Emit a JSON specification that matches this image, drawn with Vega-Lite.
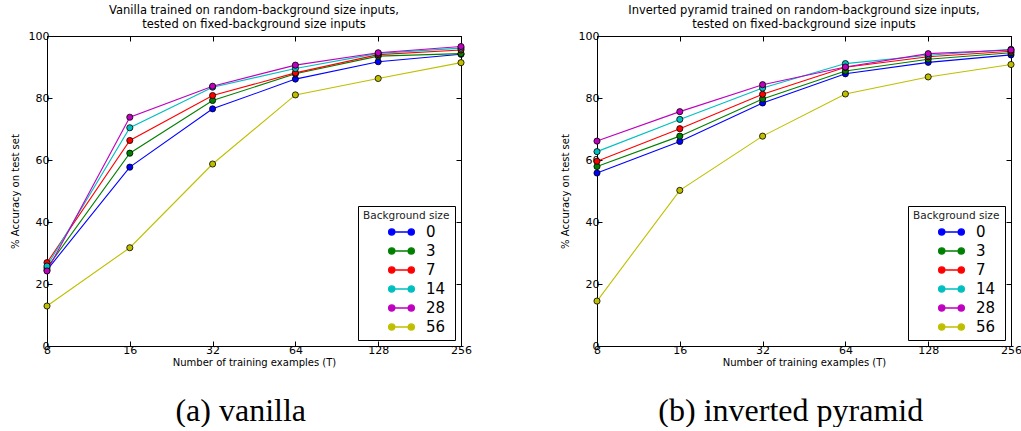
{
  "$schema": "https://vega.github.io/schema/vega-lite/v6.json",
  "background": "white",
  "padding": {"left": 9, "top": 4, "right": 5, "bottom": 0},
  "datasets": {
    "acc": [
      {"panel": "a", "T": 8, "bg": "0", "acc": 24.5},
      {"panel": "a", "T": 16, "bg": "0", "acc": 57.7},
      {"panel": "a", "T": 32, "bg": "0", "acc": 76.5},
      {"panel": "a", "T": 64, "bg": "0", "acc": 86.1},
      {"panel": "a", "T": 128, "bg": "0", "acc": 91.7},
      {"panel": "a", "T": 256, "bg": "0", "acc": 94.1},
      {"panel": "a", "T": 8, "bg": "3", "acc": 25.2},
      {"panel": "a", "T": 16, "bg": "3", "acc": 62.2},
      {"panel": "a", "T": 32, "bg": "3", "acc": 79.2},
      {"panel": "a", "T": 64, "bg": "3", "acc": 87.8},
      {"panel": "a", "T": 128, "bg": "3", "acc": 93.5},
      {"panel": "a", "T": 256, "bg": "3", "acc": 94.3},
      {"panel": "a", "T": 8, "bg": "7", "acc": 26.9},
      {"panel": "a", "T": 16, "bg": "7", "acc": 66.3},
      {"panel": "a", "T": 32, "bg": "7", "acc": 80.8},
      {"panel": "a", "T": 64, "bg": "7", "acc": 88.1},
      {"panel": "a", "T": 128, "bg": "7", "acc": 94.0},
      {"panel": "a", "T": 256, "bg": "7", "acc": 95.5},
      {"panel": "a", "T": 8, "bg": "14", "acc": 25.8},
      {"panel": "a", "T": 16, "bg": "14", "acc": 70.4},
      {"panel": "a", "T": 32, "bg": "14", "acc": 83.5},
      {"panel": "a", "T": 64, "bg": "14", "acc": 89.5},
      {"panel": "a", "T": 128, "bg": "14", "acc": 94.4},
      {"panel": "a", "T": 256, "bg": "14", "acc": 96.1},
      {"panel": "a", "T": 8, "bg": "28", "acc": 24.2},
      {"panel": "a", "T": 16, "bg": "28", "acc": 73.8},
      {"panel": "a", "T": 32, "bg": "28", "acc": 83.8},
      {"panel": "a", "T": 64, "bg": "28", "acc": 90.6},
      {"panel": "a", "T": 128, "bg": "28", "acc": 94.6},
      {"panel": "a", "T": 256, "bg": "28", "acc": 96.6},
      {"panel": "a", "T": 8, "bg": "56", "acc": 12.9},
      {"panel": "a", "T": 16, "bg": "56", "acc": 31.7},
      {"panel": "a", "T": 32, "bg": "56", "acc": 58.7},
      {"panel": "a", "T": 64, "bg": "56", "acc": 81.0},
      {"panel": "a", "T": 128, "bg": "56", "acc": 86.3},
      {"panel": "a", "T": 256, "bg": "56", "acc": 91.4},
      {"panel": "b", "T": 8, "bg": "0", "acc": 55.8},
      {"panel": "b", "T": 16, "bg": "0", "acc": 66.0},
      {"panel": "b", "T": 32, "bg": "0", "acc": 78.4},
      {"panel": "b", "T": 64, "bg": "0", "acc": 87.8},
      {"panel": "b", "T": 128, "bg": "0", "acc": 91.5},
      {"panel": "b", "T": 256, "bg": "0", "acc": 93.9},
      {"panel": "b", "T": 8, "bg": "3", "acc": 57.9},
      {"panel": "b", "T": 16, "bg": "3", "acc": 67.7},
      {"panel": "b", "T": 32, "bg": "3", "acc": 79.7},
      {"panel": "b", "T": 64, "bg": "3", "acc": 88.7},
      {"panel": "b", "T": 128, "bg": "3", "acc": 92.5},
      {"panel": "b", "T": 256, "bg": "3", "acc": 94.6},
      {"panel": "b", "T": 8, "bg": "7", "acc": 59.6},
      {"panel": "b", "T": 16, "bg": "7", "acc": 70.1},
      {"panel": "b", "T": 32, "bg": "7", "acc": 81.2},
      {"panel": "b", "T": 64, "bg": "7", "acc": 89.9},
      {"panel": "b", "T": 128, "bg": "7", "acc": 93.3},
      {"panel": "b", "T": 256, "bg": "7", "acc": 95.1},
      {"panel": "b", "T": 8, "bg": "14", "acc": 62.7},
      {"panel": "b", "T": 16, "bg": "14", "acc": 73.1},
      {"panel": "b", "T": 32, "bg": "14", "acc": 83.2},
      {"panel": "b", "T": 64, "bg": "14", "acc": 91.1},
      {"panel": "b", "T": 128, "bg": "14", "acc": 93.8},
      {"panel": "b", "T": 256, "bg": "14", "acc": 95.7},
      {"panel": "b", "T": 8, "bg": "28", "acc": 66.1},
      {"panel": "b", "T": 16, "bg": "28", "acc": 75.6},
      {"panel": "b", "T": 32, "bg": "28", "acc": 84.3},
      {"panel": "b", "T": 64, "bg": "28", "acc": 90.0},
      {"panel": "b", "T": 128, "bg": "28", "acc": 94.3},
      {"panel": "b", "T": 256, "bg": "28", "acc": 95.5},
      {"panel": "b", "T": 8, "bg": "56", "acc": 14.5},
      {"panel": "b", "T": 16, "bg": "56", "acc": 50.2},
      {"panel": "b", "T": 32, "bg": "56", "acc": 67.7},
      {"panel": "b", "T": 64, "bg": "56", "acc": 81.3},
      {"panel": "b", "T": 128, "bg": "56", "acc": 86.8},
      {"panel": "b", "T": 256, "bg": "56", "acc": 90.8}
    ]
  },
  "config": {
    "font": "DejaVu Sans",
    "view": {"stroke": "black", "strokeWidth": 1},
    "axis": {
      "domainColor": "black",
      "tickColor": "black",
      "labelColor": "black",
      "titleColor": "black",
      "grid": false,
      "labelFont": "DejaVu Sans",
      "titleFont": "DejaVu Sans",
      "labelFontSize": 11,
      "titleFontSize": 10,
      "titleFontWeight": "normal",
      "tickSize": -5,
      "labelPadding": 3
    },
    "title": {"font": "DejaVu Sans", "fontWeight": "normal", "fontSize": 11.5, "color": "black"},
    "legend": {
      "strokeColor": "black",
      "fillColor": "white",
      "padding": 5,
      "titleFont": "DejaVu Sans",
      "titleFontWeight": "normal",
      "titleFontSize": 10.5,
      "titleColor": "#222222",
      "labelFont": "DejaVu Sans",
      "labelFontSize": 15,
      "labelColor": "black",
      "rowPadding": 0,
      "titlePadding": 0,
      "symbolType": "M -1 0 L 1 0 M -0.68 0 A 0.32 0.32 0 1 0 -1.32 0 A 0.32 0.32 0 1 0 -0.68 0 M 1.32 0 A 0.32 0.32 0 1 0 0.68 0 A 0.32 0.32 0 1 0 1.32 0",
      "symbolSize": 380,
      "symbolStrokeWidth": 1.3,
      "symbolOffset": 28,
      "labelOffset": 14
    }
  },
  "hconcat": [
    {
      "title": {"text": "(a) vanilla", "orient": "bottom", "anchor": "middle", "font": "Liberation Serif", "fontSize": 32, "offset": 28},
      "resolve": {"scale": {"color": "independent"}, "legend": {"color": "independent"}},
      "vconcat": [
        {
          "title": {"text": ["Vanilla trained on random-background size inputs,", "tested on fixed-background size inputs"], "offset": 0, "lineHeight": 14},
          "width": 414,
          "height": 310,
          "data": {"name": "acc"},
          "transform": [{"filter": "datum.panel === 'a'"}],
          "encoding": {
            "color": {
              "field": "bg", "type": "nominal",
              "sort": ["0", "3", "7", "14", "28", "56"],
              "scale": {"domain": ["0", "3", "7", "14", "28", "56"], "range": ["#0000ff", "#008000", "#ff0000", "#00bfbf", "#bf00bf", "#bfbf00"]},
              "legend": {"title": "Background size", "orient": "bottom-right", "offset": 6}
            }
          },
          "layer": [
            {
              "mark": {"type": "line", "strokeWidth": 1.1},
              "encoding": {
                "x": {"field": "T", "type": "quantitative", "scale": {"type": "log", "base": 2, "domain": [8, 256]},
                      "axis": {"orient": "bottom", "values": [8, 16, 32, 64, 128, 256], "title": "Number of training examples (T)", "labelFlush": false, "titlePadding": 2}},
                "y": {"field": "acc", "type": "quantitative", "scale": {"domain": [0, 100]},
                      "axis": {"orient": "left", "values": [0, 20, 40, 60, 80, 100], "title": "% Accuracy on test set", "titlePadding": 8}}
              }
            },
            {
              "mark": {"type": "point", "filled": true, "size": 38, "stroke": "black", "strokeWidth": 0.8, "opacity": 1},
              "encoding": {
                "x": {"field": "T", "type": "quantitative", "scale": {"type": "log", "base": 2, "domain": [8, 256]},
                      "axis": {"orient": "top", "values": [8, 16, 32, 64, 128, 256], "labels": false, "title": null}},
                "y": {"field": "acc", "type": "quantitative", "scale": {"domain": [0, 100]},
                      "axis": {"orient": "right", "values": [0, 20, 40, 60, 80, 100], "labels": false, "title": null}}
              }
            }
          ],
          "resolve": {"axis": {"x": "independent", "y": "independent"}}
        }
      ]
    },
    {
      "title": {"text": "(b) inverted pyramid", "orient": "bottom", "anchor": "middle", "font": "Liberation Serif", "fontSize": 32, "offset": 28},
      "resolve": {"scale": {"color": "independent"}, "legend": {"color": "independent"}},
      "vconcat": [
        {
          "title": {"text": ["Inverted pyramid trained on random-background size inputs,", "tested on fixed-background size inputs"], "offset": 0, "lineHeight": 14},
          "width": 414,
          "height": 310,
          "data": {"name": "acc"},
          "transform": [{"filter": "datum.panel === 'b'"}],
          "encoding": {
            "color": {
              "field": "bg", "type": "nominal",
              "sort": ["0", "3", "7", "14", "28", "56"],
              "scale": {"domain": ["0", "3", "7", "14", "28", "56"], "range": ["#0000ff", "#008000", "#ff0000", "#00bfbf", "#bf00bf", "#bfbf00"]},
              "legend": {"title": "Background size", "orient": "bottom-right", "offset": 6}
            }
          },
          "layer": [
            {
              "mark": {"type": "line", "strokeWidth": 1.1},
              "encoding": {
                "x": {"field": "T", "type": "quantitative", "scale": {"type": "log", "base": 2, "domain": [8, 256]},
                      "axis": {"orient": "bottom", "values": [8, 16, 32, 64, 128, 256], "title": "Number of training examples (T)", "labelFlush": false, "titlePadding": 2}},
                "y": {"field": "acc", "type": "quantitative", "scale": {"domain": [0, 100]},
                      "axis": {"orient": "left", "values": [0, 20, 40, 60, 80, 100], "title": "% Accuracy on test set", "titlePadding": 8}}
              }
            },
            {
              "mark": {"type": "point", "filled": true, "size": 38, "stroke": "black", "strokeWidth": 0.8, "opacity": 1},
              "encoding": {
                "x": {"field": "T", "type": "quantitative", "scale": {"type": "log", "base": 2, "domain": [8, 256]},
                      "axis": {"orient": "top", "values": [8, 16, 32, 64, 128, 256], "labels": false, "title": null}},
                "y": {"field": "acc", "type": "quantitative", "scale": {"domain": [0, 100]},
                      "axis": {"orient": "right", "values": [0, 20, 40, 60, 80, 100], "labels": false, "title": null}}
              }
            }
          ],
          "resolve": {"axis": {"x": "independent", "y": "independent"}}
        }
      ]
    }
  ],
  "spacing": 87,
  "resolve": {"scale": {"color": "independent"}, "legend": {"color": "independent"}}
}
